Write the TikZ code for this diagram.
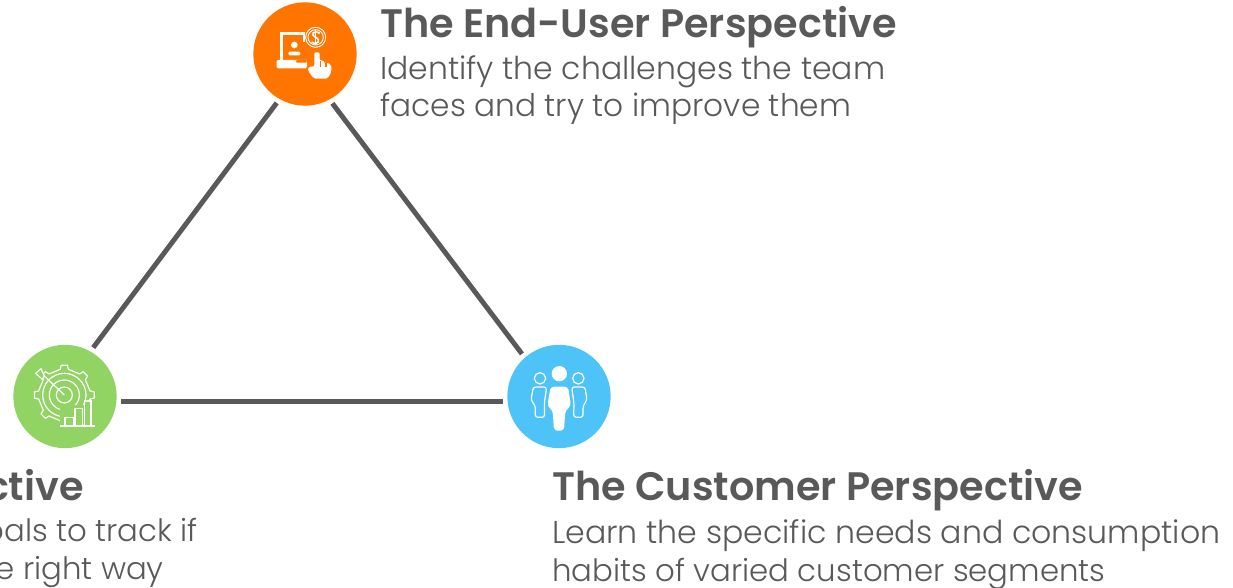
\documentclass[tikz,border=0pt]{standalone}
\usepackage{fontspec}
\setmainfont{Poppins}
\newfontfamily\headf{Poppins SemiBold}
\newfontfamily\bodyf{Poppins Light}
\definecolor{ink}{HTML}{595959}
\definecolor{orangeA}{HTML}{FF7500}
\definecolor{greenA}{HTML}{92D463}
\definecolor{blueA}{HTML}{4EC3F7}
\tikzset{
  x=0.75pt,y=-0.75pt,
  badge/.style={circle,inner sep=0pt,minimum size=77.5pt,outer sep=3.6pt},
  link/.style={draw=ink,line width=3.7pt},
  headtext/.style={inner sep=0pt,text=ink,font={\headf\fontsize{29.8pt}{30pt}\selectfont}},
  bodytext/.style={inner sep=0pt,text=ink,font={\bodyf\fontsize{#1pt}{24pt}\selectfont}},
  thin white/.style={draw=white,line width=0.9pt},
  icon/.style={shift={#1},x=0.25pt,y=-0.25pt}
}
\begin{document}
\begin{tikzpicture}
\useasboundingbox (0,0) rectangle (1233,588);
\clip (0,0) rectangle (1233,588);
\node[badge,fill=orangeA] (top) at (305,54) {};
\node[badge,fill=greenA] (left) at (65,396.5) {};
\node[badge,fill=blueA] (right) at (559,396.5) {};
\draw[link] (top.240.75) -- (left.60.5);
\draw[link] (top.299.25) -- (right.131.8);
\draw[link] (left.-5.2) -- (right.185.2);

% orange icon
\begin{scope}[icon={(245,0)}]
  \draw[white,line width=2.4pt] (110,182) -- (110,101) -- (180,101);
  \draw[white,line width=1.6pt] (178,101) -- (178,125);
  \fill[white,rounded corners=1pt] (95,180) rectangle (186,205);
  \fill[orangeA,rounded corners=1pt] (152,180) rectangle (186,188);
  \fill[white] (148,135) circle (10);
  \fill[white,rounded corners=1pt] (130,166) -- (130,155) -- (166,155) -- (166,166) -- cycle;
  \draw[thin white,line width=0.7pt] (212,112) circle (30);
  \draw[thin white,line width=0.7pt] (212,112) circle (23);
  \draw[white,line width=1.2pt] (224,100) .. controls (205,88) and (195,105) .. (212,112) .. controls (230,120) and (218,138) .. (200,126);
  \draw[white,line width=1.2pt] (212,90) -- (212,135);
  \fill[white,draw=orangeA,line width=1pt,rounded corners=1.5pt]
    (206,198) -- (206,155) -- (226,155) -- (226,180) -- (240,180) -- (240,186) -- (260,190)
    -- (262,215) -- (250,238) -- (205,238) -- (186,212) -- (188,198) -- cycle;
  \draw[orangeA,line width=0.8pt] (226,184) -- (226,200) (243,188) -- (243,200);
\end{scope}

% green icon
\begin{scope}[icon={(5,340)}]
  \begin{scope}[shift={(178,165)}]
  \draw[thin white,line join=round] (-90-9:78)
    \foreach \a in {0,45,...,315}{
      -- ({-90+\a-9}:78) -- ({-90+\a-6}:90) -- ({-90+\a+6}:90) -- ({-90+\a+9}:78)
    } -- cycle;
  \end{scope}
  \draw[thin white] (178,165) circle (24);
  \draw[thin white] (178,165) circle (45);
  \draw[thin white] (178,165) circle (65);
  \draw[thin white] (178,165) -- (118,108);
  \draw[thin white,fill=greenA] (118,108) -- (108,86) -- (92,100) -- (112,118) -- cycle;
  \fill[greenA] (165,195) rectangle (270,258);
  \draw[thin white,fill=greenA] (180,258) rectangle (205,232);
  \draw[thin white,fill=greenA] (210,258) rectangle (232,205);
  \draw[thin white,fill=greenA] (238,258) rectangle (258,183);
  \draw[white,line width=1pt] (165,258) -- (270,258);
\end{scope}

% blue icon
\begin{scope}[icon={(500,340)}]
  \fill[white] (178,101) circle (23);
  \fill[white,rounded corners=2.5pt] (152,140) -- (204,140) -- (213,198) -- (196,212) -- (192,272) -- (162,272) -- (158,212) -- (142,198) -- cycle;
  \draw[thin white] (120,115) circle (17);
  \draw[thin white] (235,115) circle (17);
  \draw[thin white,rounded corners=2pt] (100,141) -- (140,141) -- (133,190) -- (134,232) -- (106,232) -- (106,198) -- (93,180) -- cycle;
  \draw[thin white,rounded corners=2pt] (215,141) -- (255,141) -- (261,180) -- (249,198) -- (249,232) -- (221,232) -- (222,190) -- cycle;
\end{scope}

\node[headtext,anchor=base west] (t1) at (380,38) {The End-User Perspective};
\node[bodytext=23.6,anchor=base west] (b1a) at (380,80) {Identify the challenges the team};
\node[bodytext=23.4,anchor=base west] (b1b) at (380,117) {faces and try to improve them};
\node[headtext,anchor=base west] (t2) at (552,500) {The Customer Perspective};
\node[bodytext=23.7,anchor=base west] (b2a) at (552,543) {Learn the specific needs and consumption};
\node[bodytext=23.1,anchor=base west] (b2b) at (552,581) {habits of varied customer segments};
\node[headtext,anchor=base east] (t3) at (84,500) {ctive};
\node[bodytext=23.1,anchor=base east] (b3a) at (198,541) {oals to track if};
\node[bodytext=23.1,anchor=base east] (b3b) at (164,579) {e right way};
\end{tikzpicture}
\end{document}
